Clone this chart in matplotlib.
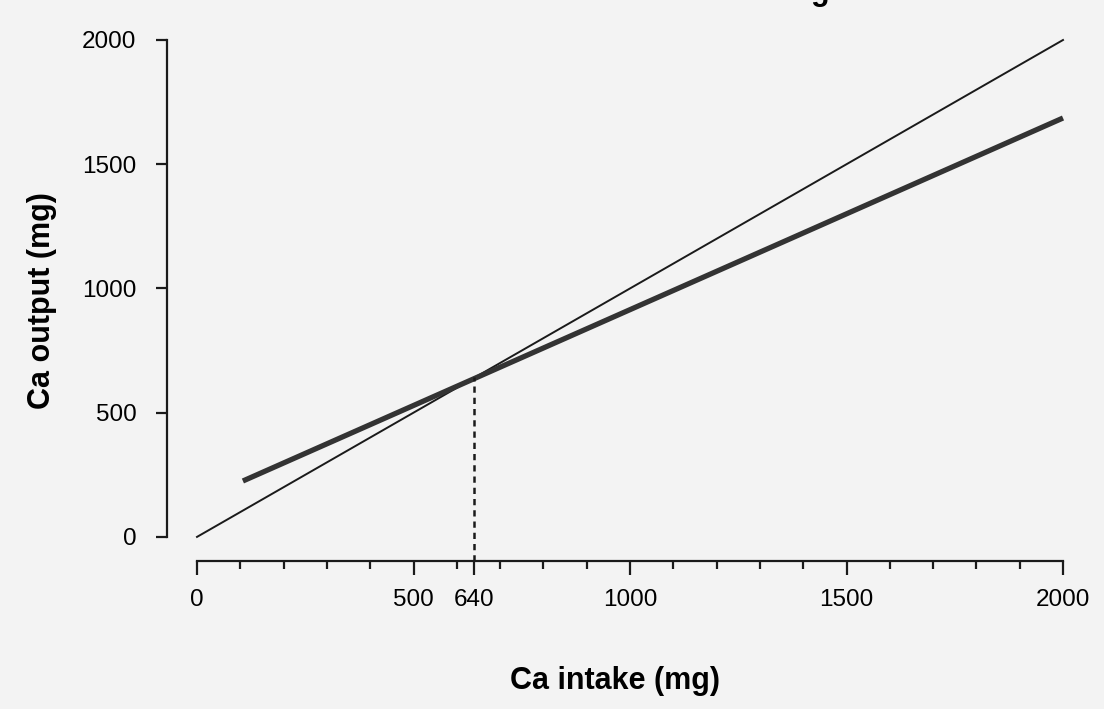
import matplotlib
matplotlib.use('Agg')
from matplotlib import pyplot as plt
from matplotlib.ticker import MultipleLocator
import numpy as np

# data
intake_equal = [0, 2000]
output_equal = [0, 2000]
intake_fit = [106, 2000]
output_fit = [225, 1686]
balance_point = 640
balance_output = 645
x_ticks = [0, 500, 640, 1000, 1500, 2000]
y_ticks = [0, 500, 1000, 1500, 2000]

plt.rcParams['font.family'] = ['Liberation Sans', 'DejaVu Sans']
bg = '#f3f3f3'

fig = plt.figure(figsize=(11.04, 7.09), dpi=100, facecolor=bg)
ax = fig.add_axes([167 / 1104, 1 - 561 / 709, (1063 - 167) / 1104, (561 - 40) / 709])
ax.set_facecolor(bg)

ax.set_xlim(-69.3, 2000)
ax.set_ylim(-97, 2000)

# line of equality and the fitted balance line
ax.plot(intake_equal, output_equal, color='#1a1a1a', linewidth=1.4, clip_on=False)
ax.plot(intake_fit, output_fit, color='#333333', linewidth=3.8,
        solid_capstyle='butt', clip_on=False)
ax.plot([balance_point, balance_point], [-97, balance_output], color='#1a1a1a',
        linewidth=1.8, linestyle=(0, (2.5, 2)), clip_on=False)

# spines
for side in ['top', 'right']:
    ax.spines[side].set_visible(False)
ax.spines['left'].set_bounds(0, 2000)
ax.spines['bottom'].set_bounds(0, 2000)
for side in ['left', 'bottom']:
    ax.spines[side].set_linewidth(1.6)
    ax.spines[side].set_color('#1a1a1a')

ax.set_xticks(x_ticks)
ax.set_yticks(y_ticks)
ax.xaxis.set_minor_locator(MultipleLocator(100))
ax.tick_params(axis='x', which='major', length=10, width=1.6, pad=10, labelsize=17.5, color='#1a1a1a')
ax.tick_params(axis='x', which='minor', length=6, width=1.6, color='#1a1a1a')
ax.tick_params(axis='y', which='major', length=8, width=1.6, pad=14, labelsize=17.5, color='#1a1a1a')

ax.set_xlabel('Ca intake (mg)', fontsize=22, fontweight='bold', labelpad=40)
ax.set_ylabel('Ca output (mg)', fontsize=22, fontweight='bold', labelpad=18)

# clipped text at the top edge of the scan
fig.text(820 / 1104, 1.0, 'g', ha='center', va='baseline', fontsize=22, fontweight='bold')

plt.savefig('out.png', dpi=100, facecolor=bg)
